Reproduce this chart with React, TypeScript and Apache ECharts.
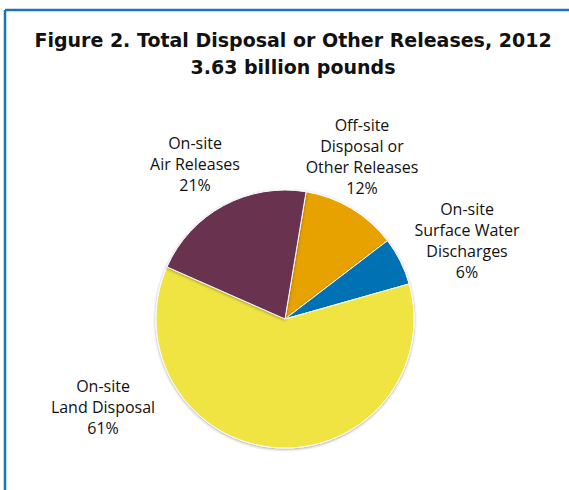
import React, { useEffect, useRef } from "react";
import * as echarts from "echarts";

const titleLines = ["Figure 2. Total Disposal or Other Releases, 2012", "3.63 billion pounds"];
const categories = [
  "Off-site\nDisposal or\nOther Releases",
  "On-site\nSurface Water\nDischarges",
  "On-site\nLand Disposal",
  "On-site\nAir Releases",
];
const values = [12, 6, 61, 21];
const colors = ["#E7A200", "#0071B3", "#EFE443", "#693350"];
const labelPos = [
  [362, 156],
  [467, 240],
  [103, 407],
  [195, 164],
];

export default function App() {
  const ref = useRef<HTMLDivElement>(null);
  useEffect(() => {
    document.body.style.margin = "0";
    const chart = echarts.init(ref.current!, undefined, { renderer: "svg" });
    chart.setOption({
      animation: false,
      backgroundColor: "#ffffff",
      title: {
        text: titleLines.join("\n"),
        left: 288,
        textAlign: "center",
        top: 21,
        textStyle: {
          fontFamily: "DejaVu Sans",
          fontWeight: "bold",
          fontSize: 19,
          lineHeight: 27,
          color: "#111111",
        },
      },
      graphic: [
        { type: "line", shape: { x1: 5, y1: 10, x2: 569, y2: 10 }, style: { stroke: "#1B74B9", lineWidth: 2.5 } },
        { type: "line", shape: { x1: 5, y1: 10, x2: 5, y2: 490 }, style: { stroke: "#1B74B9", lineWidth: 2.5 } },
      ],
      series: [
        {
          type: "pie",
          center: [285, 319],
          radius: 129,
          startAngle: 80.6,
          clockwise: true,
          data: categories.map((c, i) => ({
            name: c,
            value: values[i],
            itemStyle: { color: colors[i] },
          })),
          itemStyle: {
            borderColor: "#ffffff",
            borderWidth: 1,
            shadowBlur: 3,
            shadowColor: "rgba(0,0,0,0.35)",
            shadowOffsetY: 1,
          },
          label: {
            show: true,
            position: "outside",
            formatter: (p: any) => `${p.name}\n${p.value}%`,
            fontFamily: "Open Sans",
            fontSize: 16,
            lineHeight: 21,
            color: "#111111",
            align: "center",
            overflow: "none",
            width: 200,
          },
          labelLine: { show: false },
          labelLayout: (p: any) => ({
            x: labelPos[p.dataIndex][0],
            y: labelPos[p.dataIndex][1],
            align: "center",
            verticalAlign: "middle",
          }),
          emphasis: { disabled: true },
        },
      ],
    });
    return () => chart.dispose();
  }, []);
  return <div ref={ref} style={{ width: 569, height: 490 }} />;
}
